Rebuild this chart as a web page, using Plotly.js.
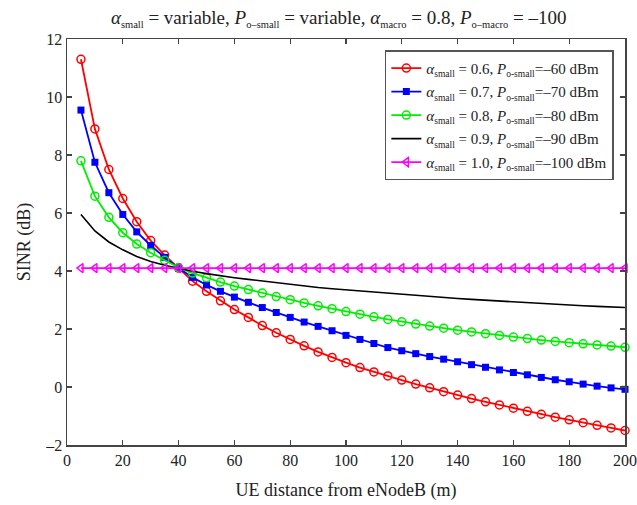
<!DOCTYPE html>
<html>
<head>
<meta charset="utf-8">
<script src="https://cdn.plot.ly/plotly-3.0.1.min.js"></script>
<style>html,body{margin:0;padding:0;background:#fff;}#chart{width:637px;height:505px;}</style>
</head>
<body>
<div id="chart"></div>
<script>
// distance from eNodeB (m)
const distance = [5,10,15,20,25,30,35,40,45,50,55,60,65,70,75,80,85,90,95,100,
                  105,110,115,120,125,130,135,140,145,150,155,160,165,170,175,180,185,190,195,200];
// SINR (dB) per configuration
const sinr06 = [11.3,8.9,7.5,6.5,5.7,5.05,4.55,4.1,3.65,3.3,2.97,2.67,2.4,2.12,1.87,1.64,1.42,1.21,1.02,0.84,
                0.67,0.52,0.38,0.24,0.10,-0.03,-0.16,-0.28,-0.40,-0.51,-0.62,-0.73,-0.84,-0.94,-1.04,-1.13,-1.23,-1.32,-1.41,-1.50];
const sinr07 = [9.55,7.75,6.7,5.95,5.35,4.88,4.47,4.1,3.78,3.52,3.3,3.1,2.92,2.74,2.57,2.4,2.24,2.09,1.94,1.78,
                1.64,1.50,1.36,1.25,1.15,1.05,0.96,0.87,0.77,0.68,0.59,0.50,0.42,0.33,0.25,0.18,0.10,0.03,-0.03,-0.08];
const sinr08 = [7.8,6.58,5.85,5.32,4.93,4.63,4.37,4.12,3.93,3.77,3.62,3.48,3.36,3.24,3.12,3.01,2.9,2.8,2.7,2.6,
                2.51,2.42,2.33,2.25,2.17,2.1,2.03,1.96,1.9,1.84,1.78,1.72,1.67,1.62,1.57,1.53,1.49,1.45,1.41,1.37];
const sinr09 = [5.95,5.38,5.0,4.73,4.5,4.33,4.2,4.09,3.99,3.91,3.83,3.77,3.71,3.65,3.59,3.53,3.48,3.43,3.39,3.35,
                3.31,3.27,3.23,3.19,3.15,3.12,3.08,3.05,3.02,2.99,2.96,2.93,2.9,2.88,2.85,2.82,2.8,2.78,2.76,2.74];
const sinr10 = [4.1,4.1,4.1,4.1,4.1,4.1,4.1,4.1,4.1,4.1,4.1,4.1,4.1,4.1,4.1,4.1,4.1,4.1,4.1,4.1,
                4.1,4.1,4.1,4.1,4.1,4.1,4.1,4.1,4.1,4.1,4.1,4.1,4.1,4.1,4.1,4.1,4.1,4.1,4.1,4.1];
const alphaSmall = ["0.6","0.7","0.8","0.9","1.0"];
const pOSmall = ["–60","–70","–80","–90","–100"];
const xTicks = [0,20,40,60,80,100,120,140,160,180,200];
const yTicks = [-2,0,2,4,6,8,10,12];

const FONT = "'Liberation Serif', 'Times New Roman', serif";
const sub = (s, px) => "<sub><span style=\"font-size:" + px + "px\">" + s + "</span></sub>";
const seriesNames = alphaSmall.map((a, i) =>
  "<i>α</i>" + sub("small", 9.5) + " = " + a + ", <i>P</i>" + sub("o-small", 9.5) + "=" + pOSmall[i] + " dBm");

const traces = [
  {x: distance, y: sinr06, name: seriesNames[0], mode: 'lines+markers',
   line: {color: '#ff0000', width: 1.8},
   marker: {symbol: 'circle-open', size: 8, color: '#ff0000', line: {width: 1.5}}},
  {x: distance, y: sinr07, name: seriesNames[1], mode: 'lines+markers',
   line: {color: '#0000ff', width: 1.8},
   marker: {symbol: 'square', size: 7, color: '#0000ff'}},
  {x: distance, y: sinr08, name: seriesNames[2], mode: 'lines+markers',
   line: {color: '#00ee00', width: 1.8},
   marker: {symbol: 'circle-open', size: 8, color: '#00ee00', line: {width: 1.5}}},
  {x: distance, y: sinr09, name: seriesNames[3], mode: 'lines',
   line: {color: '#000000', width: 1.6}},
  {x: distance, y: sinr10, name: seriesNames[4], mode: 'lines+markers',
   line: {color: '#ff00ff', width: 1.8},
   marker: {symbol: 'triangle-left-open', size: 8, color: '#ff00ff', line: {width: 1.5}}}
].map((t, i) => Object.assign(t, {cliponaxis: false, type: 'scatter', legendgroup: 'g' + i}));

const axisCommon = {
  showline: true, linecolor: '#444', linewidth: 1.5, mirror: 'ticks',
  ticks: 'inside', ticklen: 5, tickwidth: 1.2, tickcolor: '#444',
  showgrid: false, zeroline: false,
  tickfont: {family: FONT, size: 16, color: '#222'}
};

const layout = {
  width: 637, height: 505,
  margin: {l: 67, r: 12, t: 39, b: 60},
  paper_bgcolor: '#fff', plot_bgcolor: '#fff',
  font: {family: FONT, color: '#222'},
  title: {
    text: "<i>α</i>" + sub("small", 10.5) + " = variable, <i>P</i>" + sub("o–small", 10.5) + " = variable, <i>α</i>" +
          sub("macro", 10.5) + " = 0.8, <i>P</i>" + sub("o–macro", 10.5) + " = –100",
    font: {family: FONT, size: 19, color: '#222'},
    x: 0.487, xref: 'paper', xanchor: 'center', y: 0.966, yref: 'container', yanchor: 'middle'
  },
  xaxis: Object.assign({}, axisCommon, {
    range: [0, 200], tickvals: xTicks, ticktext: xTicks.map(String),
    title: {text: 'UE distance from eNodeB (m)', font: {family: FONT, size: 18, color: '#222'}, standoff: 15}
  }),
  yaxis: Object.assign({}, axisCommon, {
    range: [-2, 12], tickvals: yTicks, ticktext: yTicks.map(v => v < 0 ? '–' + Math.abs(v) : String(v)),
    title: {text: 'SINR (dB)', font: {family: FONT, size: 18, color: '#222'}, standoff: 10}
  }),
  showlegend: true,
  legend: {
    x: 0.98, y: 0.972, xanchor: 'right', yanchor: 'top',
    bgcolor: '#fff', bordercolor: '#555', borderwidth: 1.5,
    font: {family: FONT, size: 15, color: '#222'},
    traceorder: 'grouped', tracegroupgap: 1, itemwidth: 30
  }
};

Plotly.newPlot('chart', traces, layout, {staticPlot: true, displayModeBar: false});
</script>
</body>
</html>
